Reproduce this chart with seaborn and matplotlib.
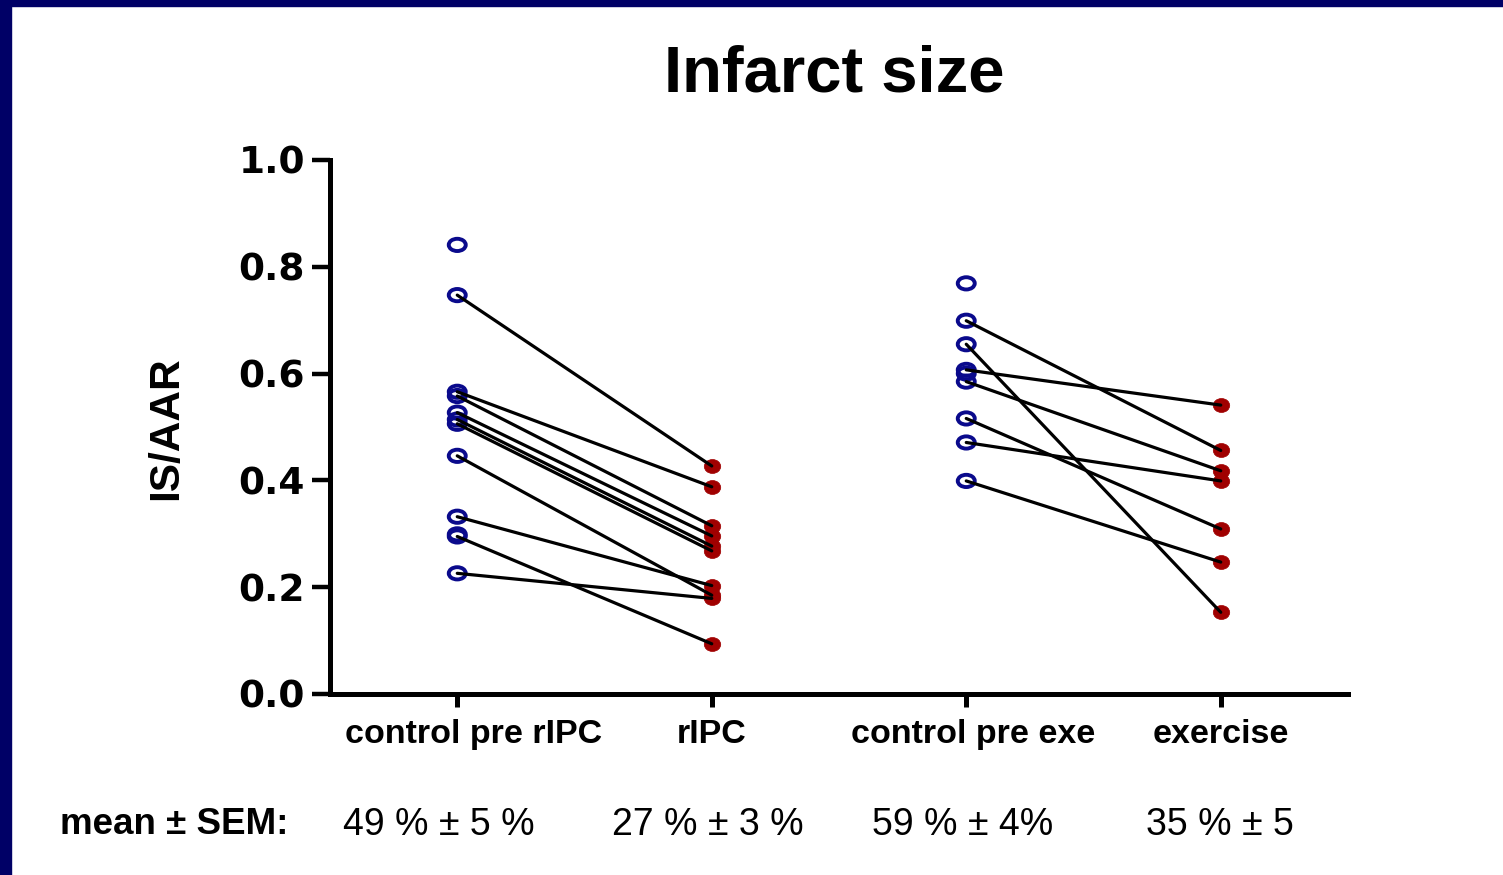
import matplotlib
matplotlib.use('Agg')
import matplotlib.pyplot as plt
from matplotlib.path import Path
from matplotlib.patches import Rectangle
from matplotlib.transforms import ScaledTranslation
import seaborn as sns
import pandas as pd
import numpy as np

groups = ['control pre rIPC', 'rIPC', 'control pre exe', 'exercise']

# paired animals: (control, treated)
ripc_pre = [0.747, 0.566, 0.558, 0.527, 0.514, 0.506, 0.446, 0.332, 0.295, 0.226]
ripc_post = [0.427, 0.388, 0.315, 0.296, 0.277, 0.268, 0.185, 0.203, 0.094, 0.179]
ripc_pre_only = [0.841, 0.299]

exe_pre = [0.699, 0.655, 0.607, 0.585, 0.516, 0.471, 0.399]
exe_post = [0.456, 0.153, 0.541, 0.418, 0.309, 0.399, 0.247]
exe_pre_only = [0.769, 0.600]

y_ticks = [0.0, 0.2, 0.4, 0.6, 0.8, 1.0]
mean_title = 'mean ± SEM:'
mean_labels = ['49 % ± 5 %', '27 % ± 3 %', '59 % ± 4%', '35 % ± 5']

NAVY = '#0a0a8c'
RED = '#a00000'

# long-form tables
rows = []
pair_id = 0
for pre, post in zip(ripc_pre, ripc_post):
    rows.append((pair_id, groups[0], pre))
    rows.append((pair_id, groups[1], post))
    pair_id += 1
for pre, post in zip(exe_pre, exe_post):
    rows.append((pair_id, groups[2], pre))
    rows.append((pair_id, groups[3], post))
    pair_id += 1
pairs = pd.DataFrame(rows, columns=['pair', 'group', 'value'])
pairs['pos'] = pairs['group'].map({g: i for i, g in enumerate(groups)})

singles = pd.DataFrame({'group': [groups[0]] * len(ripc_pre_only) + [groups[2]] * len(exe_pre_only),
                        'value': ripc_pre_only + exe_pre_only})
singles['pos'] = singles['group'].map({g: i for i, g in enumerate(groups)})
points = pd.concat([pairs[['group', 'value', 'pos']], singles], ignore_index=True)
controls = points[points['group'].isin([groups[0], groups[2]])]
treated = points[points['group'].isin([groups[1], groups[3]])]

sns.set_style('white')
plt.rcParams['font.family'] = ['Liberation Sans', 'DejaVu Sans']
plt.rcParams['text.color'] = 'black'
plt.rcParams['xtick.color'] = 'black'
plt.rcParams['ytick.color'] = 'black'

# slightly squashed circles like the original slide
circ = Path.unit_circle()
open_marker = Path(circ.vertices * [1, 0.72], circ.codes)
fill_marker = Path(circ.vertices * [1, 0.85], circ.codes)

fig = plt.figure(figsize=(15.03, 8.75), dpi=100)
ax = fig.add_axes([330 / 1503, 1 - 694 / 875, 1018 / 1503, 534 / 875])

sns.scatterplot(data=controls, x='pos', y='value', marker=open_marker, s=150,
                facecolors='none', edgecolor=NAVY, linewidth=2.8, ax=ax, zorder=2)
sns.scatterplot(data=treated, x='pos', y='value', marker=fill_marker, s=140,
                color=RED, edgecolor=RED, linewidth=0.5, ax=ax, zorder=2)
sns.lineplot(data=pairs, x='pos', y='value', units='pair', estimator=None,
             color='black', linewidth=2.3, ax=ax, zorder=3, legend=False)

ax.set_xlim(-0.5, 3.5)
ax.set_ylim(0, 1.0)
ax.set_xticks(range(len(groups)))
ax.set_xticklabels(groups, fontsize=24.5, fontweight='bold', family='Liberation Sans', color='black')
ax.set_yticks(y_ticks)
ax.set_yticklabels([f'{t:.1f}' for t in y_ticks], fontsize=27, fontweight='bold',
                   family='DejaVu Sans', color='black')
ax.set_xlabel('')
ax.set_ylabel('')
ax.tick_params(axis='y', direction='out', length=13, width=3.2, pad=5, left=True)
ax.tick_params(axis='x', direction='out', length=9, width=3.6, pad=9, bottom=True)
sns.despine(ax=ax)
for side in ['left', 'bottom']:
    ax.spines[side].set_linewidth(3.6)
    ax.spines[side].set_color('black')

# the slide's category labels sit a little right of their ticks
for lab, dx in zip(ax.get_xticklabels(), [16, 0, 7, 0]):
    lab.set_transform(lab.get_transform() + ScaledTranslation(dx / 100, 0, fig.dpi_scale_trans))

fig.text(834 / 1503, 1 - 75 / 875, 'Infarct size', ha='center', va='center',
         fontsize=47, fontweight='bold')
fig.text(166 / 1503, 1 - 428 / 875, 'IS/AAR', ha='center', va='center',
         rotation=90, fontsize=30.5, fontweight='bold')

fig.text(60 / 1503, 1 - 825 / 875, mean_title, ha='left', va='center',
         fontsize=26.5, fontweight='bold')
for x_px, lab in zip([343, 612, 872, 1146], mean_labels):
    fig.text(x_px / 1503, 1 - 825 / 875, lab, ha='left', va='center', fontsize=27)

# navy slide frame
fig.patches.append(Rectangle((0, 0), 11 / 1503, 1, transform=fig.transFigure,
                             color='#000066', zorder=10))
fig.patches.append(Rectangle((0, 1 - 6 / 875), 1, 6 / 875, transform=fig.transFigure,
                             color='#000066', zorder=10))

fig.savefig('out.png', dpi=100)
